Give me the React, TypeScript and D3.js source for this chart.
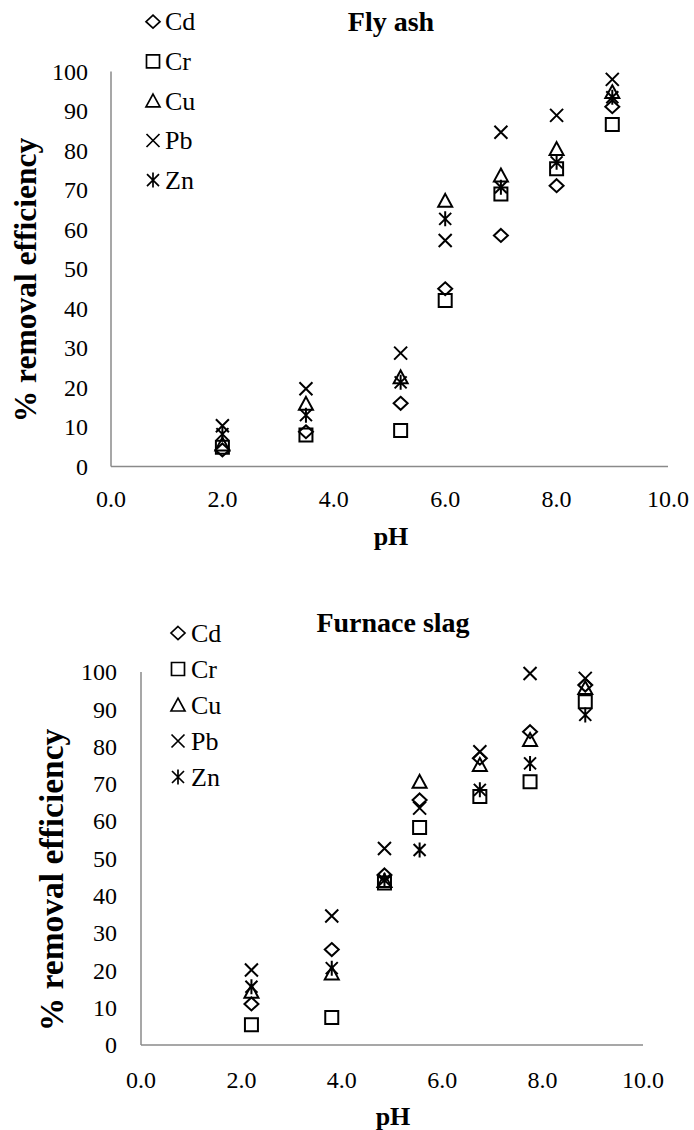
import React from 'react';
import * as d3 from 'd3';

// ---------- DATA ----------
const metals = ['Cd', 'Cr', 'Cu', 'Pb', 'Zn'];
const xTickValues = [0, 2, 4, 6, 8, 10];
const yTickValues = [0, 10, 20, 30, 40, 50, 60, 70, 80, 90, 100];

const flyAshTitle = 'Fly ash';
const flyAshPH = [2.0, 3.5, 5.2, 6.0, 7.0, 8.0, 9.0];
const flyAshCd = [4.2, 8.8, 16.0, 45.0, 58.5, 71.1, 91.1];
const flyAshCr = [4.9, 8.0, 9.1, 42.0, 69.0, 75.4, 86.6];
const flyAshCu = [5.6, 15.9, 22.6, 67.3, 73.7, 80.4, 94.8];
const flyAshPb = [10.3, 19.7, 28.7, 57.2, 84.6, 88.9, 98.0];
const flyAshZn = [8.2, 13.0, 21.3, 62.7, 70.7, 77.0, 93.5];

const slagTitle = 'Furnace slag';
const slagPH = [2.2, 3.8, 4.85, 5.55, 6.75, 7.75, 8.85];
const slagCd = [11.0, 25.6, 45.6, 65.7, 76.9, 84.0, 96.5];
const slagCr = [5.4, 7.4, 43.4, 58.3, 66.6, 70.6, 92.0];
const slagCu = [14.3, 19.2, 44.0, 70.6, 75.1, 81.8, 95.7];
const slagPb = [20.1, 34.6, 52.7, 63.5, 78.6, 99.6, 98.3];
const slagZn = [15.6, 20.6, 44.2, 52.3, 68.4, 75.5, 88.5];

const xLabel = 'pH';
const yLabel = '% removal efficiency';

// ---------- MARKERS ----------
function markerPath(m: string): string {
  switch (m) {
    case 'Cd':
      return 'M0,-6.5L7,0L0,6.5L-7,0Z';
    case 'Cr':
      return 'M-6.5,-6.5H6.5V6.5H-6.5Z';
    case 'Cu':
      return 'M0,-6.8L7,6L-7,6Z';
    case 'Pb':
      return 'M-6.5,-6.5L6.5,6.5M-6.5,6.5L6.5,-6.5';
    default:
      return 'M-6,-6L6,6M-6,6L6,-6M0,-7.5L0,7.5';
  }
}

const FONT = '"Liberation Serif", "Times New Roman", serif';
const AXIS_COLOR = '#8a8a8a';

type PanelLayout = {
  x0: number; x1: number; yTop: number; yBottom: number;
  titleX: number; titleY: number;
  xTickY: number; xLabelY: number;
  yTickRight: number; yTitleX: number; yTitleY: number; yTitleSize: number;
  legMarkX: number; legTextX: number; legY0: number; legDy: number;
};

function Panel({ title, ph, series, L }: { title: string; ph: number[]; series: number[][]; L: PanelLayout }) {
  const xs = d3.scaleLinear().domain([0, 10]).range([L.x0, L.x1]);
  const ys = d3.scaleLinear().domain([0, 100]).range([L.yBottom, L.yTop]);
  const ts = { fontFamily: FONT };
  return (
    <g style={ts} fill="#000">
      <text style={ts} x={L.titleX} y={L.titleY} textAnchor="middle" fontWeight="bold" fontSize={28}>{title}</text>
      <line x1={xs(0)} x2={xs(0)} y1={ys(100)} y2={ys(0)} stroke={AXIS_COLOR} strokeWidth={1.5} />
      <line x1={xs(0)} x2={xs(10)} y1={ys(0)} y2={ys(0)} stroke={AXIS_COLOR} strokeWidth={1.5} />
      {yTickValues.map((v) => (
        <text style={ts} key={'y' + v} x={L.yTickRight} y={ys(v) + 8.2} textAnchor="end" fontSize={24}>{v}</text>
      ))}
      {xTickValues.map((v) => (
        <text style={ts} key={'x' + v} x={xs(v)} y={L.xTickY} textAnchor="middle" fontSize={24}>{d3.format('.1f')(v)}</text>
      ))}
      <text style={ts} x={L.titleX} y={L.xLabelY} textAnchor="middle" fontWeight="bold" fontSize={26}>{xLabel}</text>
      <text style={ts} transform={`translate(${L.yTitleX},${L.yTitleY}) rotate(-90)`} textAnchor="middle" fontWeight="bold" fontSize={L.yTitleSize}>{yLabel}</text>
      {series.map((vals, si) => (
        <g key={metals[si]}>
          {vals.map((v, i) => (
            <path key={i} d={markerPath(metals[si])} transform={`translate(${xs(ph[i])},${ys(v)})`} fill="none" stroke="#000" strokeWidth={2} />
          ))}
        </g>
      ))}
      {metals.map((m, i) => (
        <g key={'leg' + m}>
          <path d={markerPath(m)} transform={`translate(${L.legMarkX},${L.legY0 + i * L.legDy})`} fill="none" stroke="#000" strokeWidth={1.7} />
          <text style={ts} x={L.legTextX} y={L.legY0 + i * L.legDy + 8.7} fontSize={26}>{m}</text>
        </g>
      ))}
    </g>
  );
}

const topLayout: PanelLayout = {
  x0: 111, x1: 668, yTop: 71.5, yBottom: 466.5,
  titleX: 391, titleY: 31,
  xTickY: 507, xLabelY: 545,
  yTickRight: 88, yTitleX: 36, yTitleY: 280, yTitleSize: 31.5,
  legMarkX: 153, legTextX: 165, legY0: 21.7, legDy: 39.6,
};

const bottomLayout: PanelLayout = {
  x0: 141, x1: 643, yTop: 672, yBottom: 1045,
  titleX: 393, titleY: 632,
  xTickY: 1088, xLabelY: 1125,
  yTickRight: 117, yTitleX: 63, yTitleY: 880, yTitleSize: 33.5,
  legMarkX: 178, legTextX: 191, legY0: 633, legDy: 36,
};

export default function App() {
  return (
    <svg width={694} height={1130} style={{ position: 'absolute', left: 0, top: 0, background: '#fff' }}>
      <rect width={694} height={1130} fill="#fff" />
      <Panel title={flyAshTitle} ph={flyAshPH} series={[flyAshCd, flyAshCr, flyAshCu, flyAshPb, flyAshZn]} L={topLayout} />
      <Panel title={slagTitle} ph={slagPH} series={[slagCd, slagCr, slagCu, slagPb, slagZn]} L={bottomLayout} />
    </svg>
  );
}
